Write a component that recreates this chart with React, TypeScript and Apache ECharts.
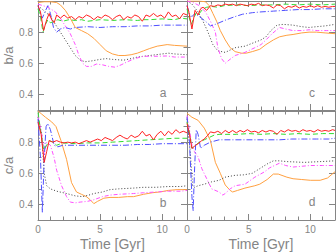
import React, { useEffect, useRef } from "react";
import * as echarts from "echarts";

// Panel a: b/a, left top
const aRed = [[0,0.97],[0.2,0.93],[0.45,0.81],[0.7,0.88],[0.9,0.92],[1.1,0.88],[1.3,0.86],[1.5,0.91],[1.8,0.89],[2.1,0.91],[2.4,0.89],[2.7,0.9],[3.0,0.88],[3.3,0.9],[3.6,0.89],[3.9,0.91],[4.2,0.9],[4.5,0.88],[4.8,0.9],[5.1,0.89],[5.4,0.91],[5.7,0.9],[6.0,0.88],[6.3,0.9],[6.6,0.91],[6.9,0.88],[7.2,0.9],[7.5,0.89],[7.8,0.91],[8.1,0.9],[8.4,0.87],[8.7,0.91],[9.0,0.9],[9.3,0.92],[9.6,0.9],[9.9,0.91],[10.2,0.89],[10.5,0.93],[10.8,0.9],[11.1,0.91],[11.4,0.885],[11.7,0.92],[12,0.91]];
const aGreen = [[0,0.95],[0.2,0.9],[0.4,0.8],[0.6,0.85],[0.8,0.88],[1.0,0.86],[1.3,0.87],[1.6,0.88],[2,0.87],[2.5,0.88],[3,0.875],[3.5,0.88],[4,0.87],[5,0.88],[6,0.875],[7,0.88],[8,0.875],[8.5,0.88],[9,0.88],[10,0.885],[11,0.88],[11.5,0.89],[12,0.885]];
const aBlue = [[0,0.97],[0.2,0.92],[0.35,0.89],[0.55,0.93],[0.8,0.97],[1.0,0.92],[1.25,0.83],[1.5,0.8],[1.8,0.82],[2.2,0.83],[2.6,0.82],[3,0.83],[4,0.835],[5,0.83],[6,0.835],[7,0.835],[8,0.84],[9,0.84],[10,0.845],[11,0.845],[12,0.845]];
const aOrange = [[0,0.99],[0.5,0.995],[1,0.995],[1.5,0.99],[1.8,0.975],[2.2,0.94],[2.6,0.89],[3.0,0.83],[3.5,0.81],[4.0,0.79],[4.5,0.76],[5.0,0.72],[5.5,0.68],[6,0.66],[6.5,0.65],[7,0.65],[7.5,0.655],[8,0.665],[8.5,0.68],[9,0.695],[9.6,0.71],[10.4,0.72],[11,0.715],[12,0.71]];
const aDotted = [[0,0.97],[0.3,0.95],[0.6,0.93],[1.0,0.9],[1.4,0.85],[1.8,0.8],[2.2,0.75],[2.6,0.7],[3.0,0.65],[3.4,0.62],[3.8,0.61],[4.3,0.615],[5,0.625],[5.5,0.63],[6,0.625],[6.9,0.62],[7.5,0.63],[8,0.64],[9,0.65],[10,0.66],[10.5,0.665],[11,0.66],[12,0.655]];
const aMagenta = [[0,0.98],[0.4,0.97],[0.8,0.96],[1.0,0.95],[1.4,0.93],[1.8,0.89],[2.2,0.84],[2.6,0.79],[3.0,0.72],[3.3,0.65],[3.6,0.6],[3.9,0.58],[4.3,0.58],[4.7,0.595],[5.2,0.59],[5.7,0.58],[6.2,0.575],[6.7,0.59],[7.2,0.61],[7.8,0.63],[8.5,0.645],[9.5,0.645],[10.4,0.647],[11,0.64],[12,0.64]];

// Panel c: b/a, right top
const cRed = [[0,0.97],[0.15,0.93],[0.4,0.82],[0.65,0.94],[0.9,0.91],[1.1,0.95],[1.3,0.96],[1.6,0.94],[1.9,0.97],[2.2,0.965],[2.5,0.975],[2.8,0.97],[3.1,0.98],[3.4,0.975],[3.7,0.98],[4.0,0.97],[4.3,0.98],[4.6,0.975],[4.9,0.97],[5.2,0.98],[5.5,0.975],[5.8,0.985],[6.1,0.97],[6.4,0.975],[6.7,0.97],[7.0,0.955],[7.3,0.975],[7.6,0.97],[7.9,0.95],[8.2,0.965],[8.5,0.96],[8.8,0.97],[9.1,0.955],[9.4,0.965],[9.7,0.96],[10.0,0.97],[10.3,0.96],[10.6,0.97],[10.9,0.96],[11.2,0.965],[11.5,0.96],[11.8,0.965],[12,0.965]];
const cGreen = [[0,0.95],[0.15,0.9],[0.35,0.85],[0.6,0.9],[0.8,0.93],[1.0,0.92],[1.3,0.95],[1.6,0.96],[2,0.965],[2.5,0.96],[3,0.97],[4,0.975],[5,0.97],[6,0.975],[7,0.975],[8,0.98],[9,0.975],[10,0.98],[11,0.975],[12,0.98]];
const cBlue = [[0,0.97],[0.2,0.92],[0.4,0.9],[0.65,0.92],[1.0,0.9],[1.5,0.87],[1.9,0.84],[2.3,0.85],[2.6,0.86],[3.2,0.88],[3.9,0.9],[4.5,0.915],[5.3,0.925],[6,0.93],[7,0.935],[8,0.94],[9,0.945],[10,0.945],[11,0.95],[12,0.95]];
const cOrange = [[0,1.0],[0.5,1.0],[1.0,1.0],[1.5,0.995],[1.8,0.97],[2.1,0.92],[2.4,0.87],[2.7,0.81],[3.1,0.75],[3.5,0.7],[3.9,0.675],[4.4,0.665],[4.8,0.665],[5.3,0.675],[5.9,0.69],[6.4,0.72],[7.0,0.75],[7.5,0.77],[8.1,0.78],[8.6,0.785],[9.3,0.795],[9.9,0.8],[10.5,0.8],[11.2,0.795],[12,0.79]];
const cDotted = [[0,1.0],[0.4,0.98],[0.9,0.93],[1.3,0.87],[1.7,0.8],[2.1,0.72],[2.5,0.68],[3.1,0.67],[3.9,0.7],[4.7,0.71],[5.5,0.735],[6.0,0.75],[6.4,0.77],[6.8,0.81],[7.3,0.845],[7.8,0.85],[8.6,0.845],[9.3,0.835],[9.9,0.83],[10.5,0.835],[11.2,0.84],[12,0.85]];
const cMagenta = [[0,1.0],[0.5,0.99],[1.0,0.97],[1.5,0.93],[1.9,0.87],[2.3,0.8],[2.5,0.7],[2.8,0.63],[3.1,0.6],[3.4,0.62],[3.9,0.65],[4.7,0.67],[5.5,0.7],[6.0,0.72],[6.4,0.75],[6.9,0.79],[7.5,0.83],[8.0,0.82],[8.6,0.81],[9.3,0.81],[9.9,0.815],[10.6,0.81],[11.3,0.81],[12,0.81]];

// Panel b: c/a, left bottom
const bRed = [[0,0.93],[0.25,0.85],[0.5,0.67],[0.7,0.74],[0.9,0.81],[1.2,0.8],[1.5,0.81],[1.8,0.8],[2.1,0.795],[2.4,0.8],[2.7,0.795],[3.0,0.8],[3.3,0.79],[3.6,0.8],[3.9,0.81],[4.2,0.8],[4.5,0.81],[4.8,0.82],[5.1,0.81],[5.4,0.83],[5.7,0.82],[6.0,0.81],[6.3,0.83],[6.6,0.845],[6.9,0.83],[7.2,0.82],[7.5,0.845],[7.8,0.83],[8.1,0.84],[8.4,0.87],[8.7,0.84],[9.0,0.85],[9.3,0.815],[9.6,0.85],[9.9,0.87],[10.2,0.84],[10.5,0.87],[10.8,0.85],[11.1,0.88],[11.4,0.86],[11.7,0.87],[12,0.86]];
const bGreen = [[0,0.99],[0.2,0.88],[0.45,0.75],[0.7,0.78],[0.9,0.81],[1.2,0.8],[1.5,0.78],[2,0.795],[3,0.79],[4,0.795],[5,0.795],[6,0.8],[7,0.805],[8,0.81],[9,0.815],[10,0.82],[11,0.825],[12,0.825]];
const bBlue = [[0,0.95],[0.2,0.7],[0.35,0.35],[0.5,0.7],[0.65,0.9],[0.8,0.92],[1.0,0.88],[1.3,0.78],[1.6,0.77],[2,0.78],[3,0.78],[4,0.78],[5,0.78],[6,0.78],[7,0.78],[8,0.785],[9,0.785],[10,0.79],[11,0.79],[12,0.79]];
const bOrange = [[0,1.0],[0.3,0.98],[0.6,0.96],[1.1,0.93],[1.45,0.9],[1.85,0.81],[2.3,0.69],[2.7,0.54],[3.1,0.48],[3.5,0.465],[3.9,0.45],[4.2,0.43],[4.5,0.405],[4.8,0.42],[5.3,0.44],[5.8,0.445],[6.5,0.445],[7.2,0.45],[7.7,0.45],[8.5,0.465],[9.2,0.475],[9.8,0.48],[10.5,0.49],[11.2,0.495],[12,0.495]];
const bDotted = [[0,0.96],[0.3,0.85],[0.5,0.6],[0.7,0.52],[1.0,0.5],[1.5,0.485],[2.3,0.47],[3.0,0.455],[3.6,0.45],[4.1,0.46],[4.5,0.47],[5.2,0.48],[5.8,0.495],[6.5,0.5],[7.7,0.505],[8.5,0.51],[9.5,0.51],[10.5,0.515],[11.5,0.515],[12,0.52]];
const bMagenta = [[0,0.97],[0.3,0.85],[0.5,0.72],[0.7,0.8],[1.0,0.78],[1.3,0.7],[1.5,0.62],[1.9,0.52],[2.3,0.45],[2.6,0.415],[3.0,0.41],[3.4,0.415],[4.0,0.42],[4.5,0.43],[5.2,0.45],[5.8,0.46],[6.5,0.465],[7.7,0.47],[8.5,0.475],[9.5,0.48],[10.5,0.485],[11.5,0.485],[12,0.49]];

// Panel d: c/a, right bottom
const dRed = [[0,0.92],[0.2,0.85],[0.4,0.76],[0.7,0.78],[0.9,0.79],[1.2,0.81],[1.4,0.82],[1.7,0.845],[1.9,0.866],[2.2,0.86],[2.5,0.87],[2.8,0.855],[3.1,0.875],[3.4,0.86],[3.7,0.875],[4.0,0.86],[4.3,0.875],[4.6,0.865],[4.9,0.88],[5.2,0.865],[5.5,0.87],[5.8,0.86],[6.1,0.875],[6.4,0.865],[6.7,0.875],[7.0,0.87],[7.3,0.85],[7.6,0.875],[7.9,0.865],[8.2,0.88],[8.5,0.87],[8.8,0.875],[9.1,0.865],[9.4,0.88],[9.7,0.87],[10.0,0.875],[10.3,0.865],[10.6,0.88],[10.9,0.87],[11.2,0.875],[11.5,0.87],[11.8,0.88],[12,0.875]];
const dGreen = [[0,0.93],[0.2,0.86],[0.4,0.76],[0.7,0.78],[1.0,0.8],[1.4,0.815],[1.8,0.83],[2.2,0.845],[2.6,0.85],[3,0.85],[4,0.85],[5,0.855],[6,0.85],[7,0.855],[8,0.85],[9,0.855],[10,0.85],[11,0.855],[12,0.855]];
const dBlue = [[0,0.96],[0.2,0.8],[0.4,0.45],[0.5,0.36],[0.6,0.6],[0.75,0.88],[0.9,0.85],[1.1,0.76],[1.4,0.78],[1.9,0.8],[2.6,0.815],[3.5,0.815],[4.5,0.815],[5.5,0.815],[6.5,0.815],[7.5,0.815],[8.5,0.82],[9.5,0.82],[10.5,0.82],[11.5,0.82],[12,0.825]];
const dOrange = [[0,0.985],[0.4,0.96],[0.9,0.94],[1.4,0.89],[1.9,0.81],[2.3,0.67],[2.7,0.6],[3.1,0.525],[3.5,0.49],[3.7,0.48],[4.1,0.49],[4.7,0.505],[5.5,0.52],[5.9,0.53],[6.5,0.56],[7.0,0.595],[7.4,0.595],[8.1,0.575],[8.6,0.565],[9.3,0.56],[10,0.555],[10.8,0.555],[11.4,0.57],[12,0.61]];
const dDotted = [[0,0.95],[0.25,0.75],[0.45,0.52],[0.6,0.51],[0.9,0.52],[1.4,0.53],[2.0,0.545],[2.6,0.555],[3.1,0.575],[3.9,0.587],[4.6,0.59],[5.3,0.6],[5.9,0.63],[6.5,0.66],[7.0,0.68],[7.5,0.68],[8.1,0.675],[9.5,0.67],[10.8,0.675],[12,0.68]];
const dMagenta = [[0,0.97],[0.2,0.88],[0.4,0.78],[0.6,0.74],[0.9,0.705],[1.2,0.63],[1.6,0.565],[2.0,0.5],[2.6,0.48],[2.9,0.46],[3.1,0.47],[3.5,0.5],[3.9,0.52],[4.7,0.53],[5.5,0.575],[6.3,0.61],[6.7,0.635],[7.5,0.665],[8.0,0.65],[8.6,0.64],[9.3,0.645],[10,0.65],[11,0.65],[12,0.65]];

const panelLetters = ["a", "c", "b", "d"];
const yNames = ["b/a", "c/a"];
const xName = "Time [Gyr]";

const GRAY = "#858585";
const FONT = "Liberation Sans";

const panels = [
  [aOrange, aDotted, aMagenta, aBlue, aGreen, aRed],
  [cOrange, cDotted, cMagenta, cBlue, cGreen, cRed],
  [bOrange, bDotted, bMagenta, bBlue, bGreen, bRed],
  [dOrange, dDotted, dMagenta, dBlue, dGreen, dRed],
];

const styles = [
  { color: "#ffa040", type: "solid" as any },
  { color: "#404040", type: [1, 2] as any },
  { color: "#ff50ff", type: [4, 2, 1, 2] as any },
  { color: "#4f4fff", type: [6, 2, 1, 2] as any },
  { color: "#33dd33", type: [5, 3] as any },
  { color: "#ff2020", type: "solid" as any },
];

export default function App() {
  const ref = useRef<HTMLDivElement>(null);
  useEffect(() => {
    if (!ref.current) return;
    const chart = echarts.init(ref.current, null, { renderer: "svg" });
    const grids = [
      { left: 38, top: 1, width: 149, height: 109 },
      { left: 187, top: 1, width: 148, height: 109 },
      { left: 38, top: 111, width: 149, height: 109 },
      { left: 187, top: 111, width: 148, height: 109 },
    ];
    const xAxes: any[] = [];
    const yAxes: any[] = [];
    const series: any[] = [];
    grids.forEach((g, i) => {
      const bottomRow = i >= 2;
      const leftCol = i % 2 === 0;
      const xMajorIdx = xAxes.length;
      ["bottom", "top"].forEach((pos) => {
        xAxes.push({
          gridIndex: i, type: "value", min: 0, max: 12, interval: 5, position: pos,
          axisLine: { show: true, onZero: false, lineStyle: { color: GRAY, width: 1 } },
          axisTick: { show: true, inside: true, length: 6, lineStyle: { color: GRAY } },
          axisLabel: { show: bottomRow && pos === "bottom", showMaxLabel: false, color: GRAY, fontSize: 10, fontFamily: FONT, margin: 4 },
          splitLine: { show: false },
          name: bottomRow && pos === "bottom" ? xName : "",
          nameLocation: "middle", nameGap: 17,
          nameTextStyle: { color: GRAY, fontSize: 14, fontFamily: FONT },
        });
        xAxes.push({
          gridIndex: i, type: "value", min: 0, max: 12, interval: 1, position: pos,
          axisLine: { show: false, onZero: false },
          axisTick: { show: true, inside: true, length: 3.5, lineStyle: { color: GRAY } },
          axisLabel: { show: false },
          splitLine: { show: false },
        });
      });
      const yMajorIdx = yAxes.length;
      ["left", "right"].forEach((pos) => {
        yAxes.push({
          gridIndex: i, type: "value", min: 0.3, max: 1.0, minInterval: 0.2, maxInterval: 0.2, splitNumber: 4, position: pos,
          axisLine: { show: true, onZero: false, lineStyle: { color: GRAY, width: 1 } },
          axisTick: { show: true, inside: true, length: 6, lineStyle: { color: GRAY } },
          axisLabel: { show: leftCol && pos === "left", showMinLabel: false, showMaxLabel: false, color: GRAY, fontSize: 10, fontFamily: FONT, margin: 5, formatter: (v: number) => v.toFixed(1) },
          splitLine: { show: false },
          name: leftCol && pos === "left" ? yNames[bottomRow ? 1 : 0] : "",
          nameLocation: "middle", nameGap: 23, nameRotate: 90,
          nameTextStyle: { color: GRAY, fontSize: 13, fontFamily: FONT },
        });
        yAxes.push({
          gridIndex: i, type: "value", min: 0.3, max: 1.0, interval: 0.1, position: pos,
          axisLine: { show: false, onZero: false },
          axisTick: { show: true, inside: true, length: 3.5, lineStyle: { color: GRAY } },
          axisLabel: { show: false },
          splitLine: { show: false },
        });
      });
      panels[i].forEach((data, k) => {
        series.push({
          type: "line", xAxisIndex: xMajorIdx, yAxisIndex: yMajorIdx, data,
          showSymbol: false, symbol: "none", smooth: false,
          lineStyle: { color: styles[k].color, width: 1, type: styles[k].type },
          z: 2 + k,
        });
      });
    });
    const letterPos = [[163, 93], [312, 93], [163, 203], [312, 202]];
    chart.setOption({
      animation: false,
      grid: grids.map((g) => ({ ...g, containLabel: false })),
      xAxis: xAxes,
      yAxis: yAxes,
      series,
      graphic: panelLetters.map((t, i) => ({
        type: "text", x: letterPos[i][0], y: letterPos[i][1],
        style: { text: t, fill: GRAY, fontSize: 12, fontFamily: FONT, align: "center", verticalAlign: "middle" },
      })),
    });
    return () => chart.dispose();
  }, []);
  return <div ref={ref} style={{ width: 336, height: 252, position: "absolute", left: 0, top: 0 }} />;
}
